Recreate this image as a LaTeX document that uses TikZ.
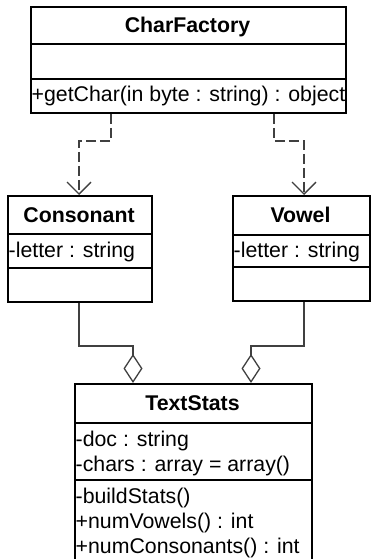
\documentclass[tikz,border=0pt]{standalone}
\usepackage{fontspec}
\setmainfont{Liberation Sans}
\usetikzlibrary{arrows.meta}
\begin{document}
\begin{tikzpicture}[x=1pt,y=-1pt,
  umlbox/.style={draw=black,line width=1.8pt,fill=white,rectangle,inner sep=0pt,anchor=north west},
  divider/.style={draw=black,line width=1.8pt},
  title/.style={font=\fontsize{21.3}{25}\selectfont\bfseries,inner sep=0pt,anchor=base},
  member/.style={font=\fontsize{21.3}{25}\selectfont,inner sep=0pt,anchor=base west},
  dep/.style={draw=black!75,line width=1.3pt,dash pattern=on 10pt off 4pt,
    -{Straight Barb[length=12pt,width=24pt,line width=1.3pt]}},
  agg/.style={draw=black!75,line width=1.3pt,
    -{Diamond[open,length=29pt,width=19pt,line width=1.3pt,fill=white]}}
]
\useasboundingbox (0,0) rectangle (371,559);
% CharFactory
\node[umlbox,minimum width=315pt,minimum height=106pt] (cf) at (30,6) {};
\draw[divider] (30,44) -- (345,44);
\draw[divider] (30,79) -- (345,79);
\node[title] (cft) at (187.5,33) {CharFactory};
\node[member] (cfm) at (31.5,102) {+getChar(in byte : string) : object};
% Consonant
\node[umlbox,minimum width=144pt,minimum height=106pt] (con) at (7,195) {};
\draw[divider] (7,234) -- (151,234);
\draw[divider] (7,268) -- (151,268);
\node[title] (cont) at (79,222.5) {Consonant};
\node[member] (cona) at (8.5,257) {-letter : string};
% Vowel
\node[umlbox,minimum width=137pt,minimum height=105pt] (vow) at (232,195) {};
\draw[divider] (232,235) -- (369,235);
\draw[divider] (232,267) -- (369,267);
\node[title] (vowt) at (300.5,222.5) {Vowel};
\node[member] (vowa) at (233.5,257) {-letter : string};
% TextStats
\node[umlbox,minimum width=237pt,minimum height=182pt] (ts) at (74,383) {};
\draw[divider] (74,423) -- (311,423);
\draw[divider] (74,480) -- (311,480);
\node[title] (tst) at (192.5,410.5) {TextStats};
\node[member] (tsa1) at (75.5,446) {-doc : string};
\node[member] (tsa2) at (75.5,471) {-chars : array = array()};
\node[member] (tsm1) at (75.5,503) {-buildStats()};
\node[member] (tsm2) at (75.5,528) {+numVowels() : int};
\node[member] (tsm3) at (75.5,553) {+numConsonants() : int};
% dependencies
\draw[dep] (cf.south -| 111,0) -- (111,141) -- (79,141) -- (con.north -| 79,0);
\draw[dep] (cf.south -| 274,0) -- (274,141) -- (304,141) -- (vow.north -| 304,0);
% aggregations
\draw[agg] (con.south -| 79,0) -- (79,346) -- (133,346) -- (ts.north -| 133,0);
\draw[agg] (vow.south -| 304,0) -- (304,346) -- (251,346) -- (ts.north -| 251,0);
\end{tikzpicture}
\end{document}
